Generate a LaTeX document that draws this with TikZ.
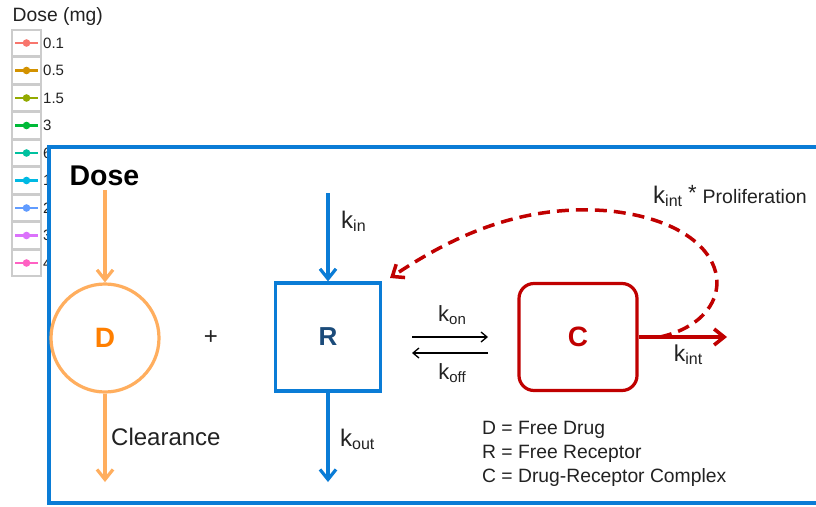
\documentclass[tikz,border=0pt]{standalone}
\usepackage{fontspec}
\setmainfont{Liberation Sans}
\usetikzlibrary{arrows.meta}
\definecolor{boxblue}{HTML}{0A7CD6}
\definecolor{lorange}{HTML}{FFAE5E}
\definecolor{dorange}{HTML}{FF7F00}
\definecolor{navy}{HTML}{1B4B7A}
\definecolor{dred}{HTML}{C00000}
\definecolor{lgray}{HTML}{CCCCCC}
\definecolor{txt}{HTML}{222222}
\newcommand{\kk}[3]{{\fontsize{#1}{#1}\selectfont k}\raisebox{-0.28em}{\fontsize{#2}{#2}\selectfont #3}}
\begin{document}
\begin{tikzpicture}[x=1pt,y=-1pt,
  legcell/.style={draw=lgray,line width=1.8pt},
  legtext/.style={anchor=west,inner sep=0pt,text=txt,font=\fontsize{15}{16}\selectfont},
  plain/.style={inner sep=0pt,text=txt},
  orarrow/.style={draw=lorange,line width=3.2pt,-{Straight Barb[length=10pt,width=16pt]}},
  blarrow/.style={draw=boxblue,line width=3.2pt,-{Straight Barb[length=10pt,width=16pt]}},
  thinarrow/.style={draw=black,line width=1.3pt,-{Straight Barb[length=6pt,width=10pt]}},
  redarrow/.style={draw=dred,line width=3.6pt,-{Straight Barb[length=10pt,width=16pt]}},
]
\clip (0,0) rectangle (816,506);
\fill[white] (0,0) rectangle (816,506);
% legend
\node[anchor=west,inner sep=0pt,text=txt,font=\fontsize{19.3}{21}\selectfont] (legtitle) at (12.5,17) {Dose (mg)};
\foreach \i/\c/\l in {0/F8766D/0.1,1/D39200/0.5,2/93AA00/1.5,3/00BA38/3,4/00C19F/6,5/00B9E3/10,6/619CFF/20,7/DB72FB/30,8/FF61C3/40}{
  \pgfmathsetmacro{\yc}{43+27.5*\i}
  \definecolor{lc}{HTML}{\c}
  \draw[legcell] (12,\yc-13) rectangle (41,\yc+13);
  \draw[lc,line width=2.6pt] (15,\yc) -- (38,\yc);
  \fill[lc] (26.5,\yc) circle (3.8pt);
  \node[legtext] (leg\i) at (43,\yc) {\l};
}
% main framed panel
\draw[boxblue,line width=4pt,fill=white] (48.5,147) rectangle (840,503);
% Dose / D
\node[inner sep=0pt,font=\bfseries\fontsize{28.5}{30}\selectfont] (dose) at (104.5,176) {Dose};
\node[circle,draw=lorange,line width=3.2pt,minimum size=108pt,inner sep=0pt,
      text=dorange,font=\bfseries\fontsize{28}{30}\selectfont] (D) at (105,338) {D};
\coordinate (clr) at (105,482);
\draw[orarrow] (105,190) -- (D.north);
\draw[orarrow] (D.south) -- (clr);
\node[plain,anchor=west,font=\fontsize{24}{26}\selectfont] (clrlab) at (111,437) {Clearance};
\node[plain,font=\fontsize{24}{26}\selectfont] (plus) at (211,338) {+};
% R
\node[draw=boxblue,line width=3.2pt,minimum width=105pt,minimum height=108pt,inner sep=0pt,
      text=navy,font=\bfseries\fontsize{26}{28}\selectfont] (R) at (328,337) {R};
\coordinate (kinstart) at (328,193);
\coordinate (koutend) at (328,482);
\draw[blarrow] (kinstart) -- (R.north);
\draw[blarrow] (R.south) -- (koutend);
\node[plain,anchor=west] (kin) at (341,221) {\kk{24}{16}{in}};
\node[plain,anchor=west] (kout) at (340,439) {\kk{24}{16}{out}};
% kon / koff
\coordinate (onA) at (412,337);
\coordinate (onB) at (488,337);
\coordinate (offA) at (488,353);
\coordinate (offB) at (412,353);
\draw[thinarrow] (onA) -- (onB);
\draw[thinarrow] (offA) -- (offB);
\node[plain] (kon) at (452,315) {\kk{22}{15}{on}};
\node[plain] (koff) at (452,373) {\kk{22}{15}{off}};
% C
\node[draw=dred,line width=3.2pt,rounded corners=15pt,minimum width=118pt,minimum height=107pt,inner sep=0pt,
      text=dred,font=\bfseries\fontsize{28}{30}\selectfont] (C) at (578,337) {C};
\coordinate (kintend) at (727,337);
\draw[redarrow] (C.east) -- (kintend);
\node[plain] (kint) at (688,355) {\kk{23}{16}{int}};
% feedback
\coordinate (fbstart) at (660,337);
\coordinate (fbend) at (390,278);
\draw[dred,line width=3.5pt,dash pattern=on 12pt off 7pt,-{Straight Barb[length=10pt,width=16pt]}]
  (fbstart) .. controls (745,318) and (740,225) .. (610,211)
            .. controls (520,203) and (450,238) .. (fbend);
\node[plain,anchor=west] (prolif) at (653,196) {\kk{24}{16}{int}\hspace{6pt}{\fontsize{22}{22}\selectfont\raisebox{0.12em}{*}}\hspace{6pt}{\fontsize{19.5}{20}\selectfont Proliferation}};
% key
\node[plain,anchor=north west,align=left,font=\fontsize{19.3}{24}\selectfont] (key) at (482,421)
  {D = Free Drug\\R = Free Receptor\\C = Drug-Receptor Complex};
\end{tikzpicture}
\end{document}
